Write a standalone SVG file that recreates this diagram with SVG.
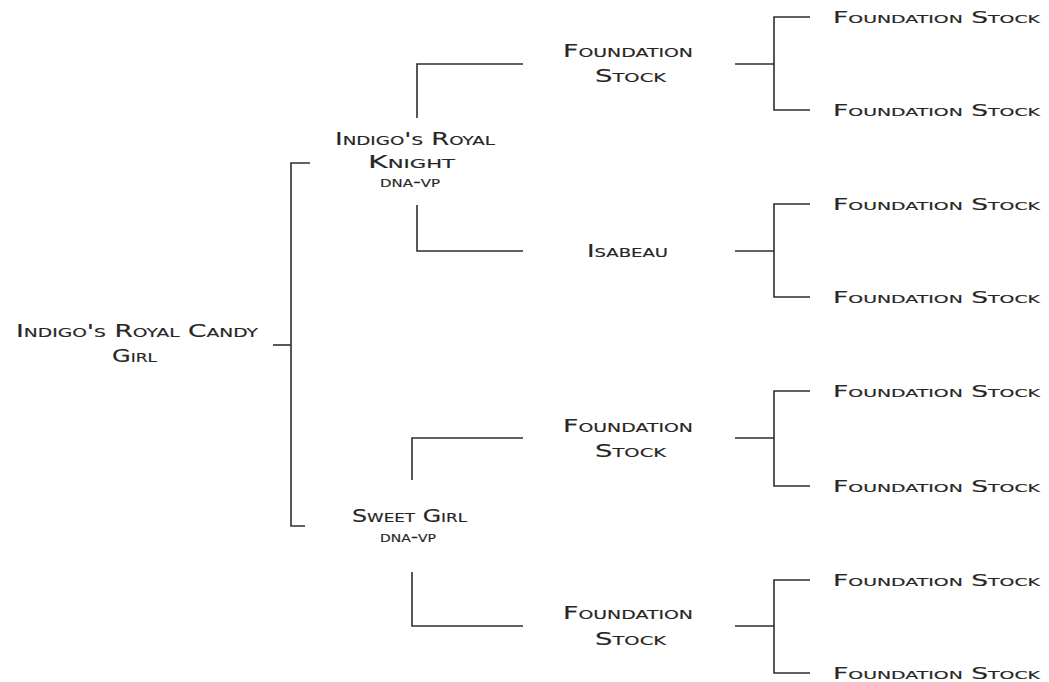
<svg xmlns="http://www.w3.org/2000/svg" width="1049" height="682" viewBox="0 0 1049 682">
<style>
.t{font-family:"DejaVu Sans","Liberation Sans",sans-serif;font-variant:small-caps;fill:#262626;stroke:#262626;stroke-width:0.15;}
.r{font-size:15.5px;}
.m{font-size:17px;}
.s{font-size:16px;}
.c{fill:none;stroke:#2e2e2e;stroke-width:1.6;}
</style>
<rect width="1049" height="682" fill="#ffffff"/>
<g id="connectors" class="c">
<path d="M273,345 H291"/>
<path d="M310,163 H291 V526 H305"/>
<path d="M523,64 H417 V118"/>
<path d="M417,205 V251 H523"/>
<path d="M523,438 H412 V480"/>
<path d="M412,572 V626 H523"/>
<path d="M735,64 H774"/>
<path d="M810,17 H774 V110 H810"/>
<path d="M735,251 H774"/>
<path d="M810,204 H774 V297 H810"/>
<path d="M735,438 H774"/>
<path d="M810,391 H774 V486 H810"/>
<path d="M735,626 H774"/>
<path d="M810,580 H774 V673 H810"/>
</g>
<g id="root">
<text class="t m" x="16" y="337" textLength="242" lengthAdjust="spacingAndGlyphs">Indigo's Royal Candy</text>
<text class="t m" x="112" y="362" textLength="45" lengthAdjust="spacingAndGlyphs">Girl</text>
</g>
<g id="sire">
<text class="t m" x="335" y="145" textLength="160" lengthAdjust="spacingAndGlyphs">Indigo's Royal</text>
<text class="t m" x="368" y="168" textLength="87" lengthAdjust="spacingAndGlyphs">Knight</text>
<text class="t s" x="380" y="187" textLength="60" lengthAdjust="spacingAndGlyphs">dna-vp</text>
</g>
<g id="dam">
<text class="t m" x="352" y="522" textLength="115" lengthAdjust="spacingAndGlyphs">Sweet Girl</text>
<text class="t s" x="380" y="542" textLength="56" lengthAdjust="spacingAndGlyphs">dna-vp</text>
</g>
<g id="ss">
<text class="t m" x="563" y="57" textLength="130" lengthAdjust="spacingAndGlyphs">Foundation</text>
<text class="t m" x="595" y="82" textLength="71" lengthAdjust="spacingAndGlyphs">Stock</text>
</g>
<g id="sd">
<text class="t m" x="587" y="257" textLength="81" lengthAdjust="spacingAndGlyphs">Isabeau</text>
</g>
<g id="ds">
<text class="t m" x="563" y="432" textLength="130" lengthAdjust="spacingAndGlyphs">Foundation</text>
<text class="t m" x="595" y="457" textLength="71" lengthAdjust="spacingAndGlyphs">Stock</text>
</g>
<g id="dd">
<text class="t m" x="563" y="619" textLength="130" lengthAdjust="spacingAndGlyphs">Foundation</text>
<text class="t m" x="595" y="645" textLength="71" lengthAdjust="spacingAndGlyphs">Stock</text>
</g>
<g id="sss"><text class="t r" x="833" y="23" textLength="207" lengthAdjust="spacingAndGlyphs">Foundation Stock</text></g>
<g id="ssd"><text class="t r" x="833" y="116" textLength="207" lengthAdjust="spacingAndGlyphs">Foundation Stock</text></g>
<g id="sds"><text class="t r" x="833" y="210" textLength="207" lengthAdjust="spacingAndGlyphs">Foundation Stock</text></g>
<g id="sdd"><text class="t r" x="833" y="303" textLength="207" lengthAdjust="spacingAndGlyphs">Foundation Stock</text></g>
<g id="dss"><text class="t r" x="833" y="397" textLength="207" lengthAdjust="spacingAndGlyphs">Foundation Stock</text></g>
<g id="dsd"><text class="t r" x="833" y="492" textLength="207" lengthAdjust="spacingAndGlyphs">Foundation Stock</text></g>
<g id="dds"><text class="t r" x="833" y="586" textLength="207" lengthAdjust="spacingAndGlyphs">Foundation Stock</text></g>
<g id="ddd"><text class="t r" x="833" y="679" textLength="207" lengthAdjust="spacingAndGlyphs">Foundation Stock</text></g>
</svg>
